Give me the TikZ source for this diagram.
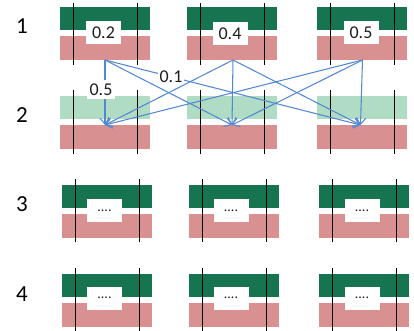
\documentclass[tikz,border=0pt]{standalone}
\usepackage{fontspec}
\setmainfont{Carlito}
\usetikzlibrary{arrows.meta}
\definecolor{dgreen}{RGB}{22,116,80}
\definecolor{lgreen}{RGB}{176,220,196}
\definecolor{pinkc}{RGB}{216,144,144}
\definecolor{arrowc}{RGB}{82,136,210}
\definecolor{txt}{RGB}{30,30,30}
\tikzset{
  vline/.style={black, line width=1.2pt},
  lbox/.style={fill=white, minimum width=35pt, minimum height=23pt, inner sep=0pt, text=txt, font=\fontsize{18}{18}\selectfont},
  dbox/.style={fill=white, minimum width=35pt, minimum height=23pt, inner sep=0pt, text=txt, font=\fontsize{14}{14}\selectfont},
  elabel/.style={fill=white, inner sep=1.5pt, text=txt, font=\fontsize{18}{18}\selectfont},
  rownum/.style={text=black, font=\fontsize{23}{23}\selectfont},
  conn/.style={arrowc, line width=1.05pt, -{Straight Barb[length=6pt,width=10pt]}}
}
\begin{document}
\begin{tikzpicture}[x=1pt,y=-1pt]
\useasboundingbox (0,0) rectangle (414,331);
% cells
\foreach \t/\dx/\gc/\la/\lb in {7/0/dgreen/3/65, 96/0/lgreen/90/154, 185/2/dgreen/179/242, 274/2/dgreen/268/335}{
  \foreach \x in {60,187,317}{
    \fill[\gc] (\x+\dx,\t) rectangle ++(90,23);
    \fill[pinkc] (\x+\dx,\t+29) rectangle ++(90,24);
    \draw[vline] (\x+\dx+13.5,\la) -- (\x+\dx+13.5,\lb);
    \draw[vline] (\x+\dx+77.5,\la) -- (\x+\dx+77.5,\lb);
  }
}
% row numbers
\node[rownum] (r1) at (22,26) {1};
\node[rownum] (r2) at (22,115) {2};
\node[rownum] (r3) at (22,204) {3};
\node[rownum] (r4) at (22,294) {4};
% value boxes row 1
\node[lbox] (b1) at (103.5,32.5) {0.2};
\node[lbox] (b2) at (230,33.5) {0.4};
\node[lbox] (b3) at (361,33) {0.5};
% placeholder boxes rows 3 and 4
\node[dbox] (c31) at (104.5,210.5) {....};
\node[dbox] (c32) at (231,210.5) {....};
\node[dbox] (c33) at (362,210.5) {....};
\node[dbox] (c41) at (104.5,298) {....};
\node[dbox] (c42) at (231,298) {....};
\node[dbox] (c43) at (362,298) {....};
% connector ends
\coordinate (s1) at (105,60);
\coordinate (s2) at (233,60);
\coordinate (s3) at (362.5,60);
\coordinate (t1) at (105,125);
\coordinate (t2) at (232,125);
\coordinate (t3) at (360.5,125);
\foreach \s in {s1,s2,s3}{
  \foreach \tt in {t1,t2,t3}{
    \draw[conn] (\s) -- (\tt);
  }
}
\node[elabel, minimum width=28pt, minimum height=19pt, inner sep=0pt] (l05) at (101,89.5) {0.5};
\node[elabel] (l01) at (171,77) {0.1};
\end{tikzpicture}
\end{document}
